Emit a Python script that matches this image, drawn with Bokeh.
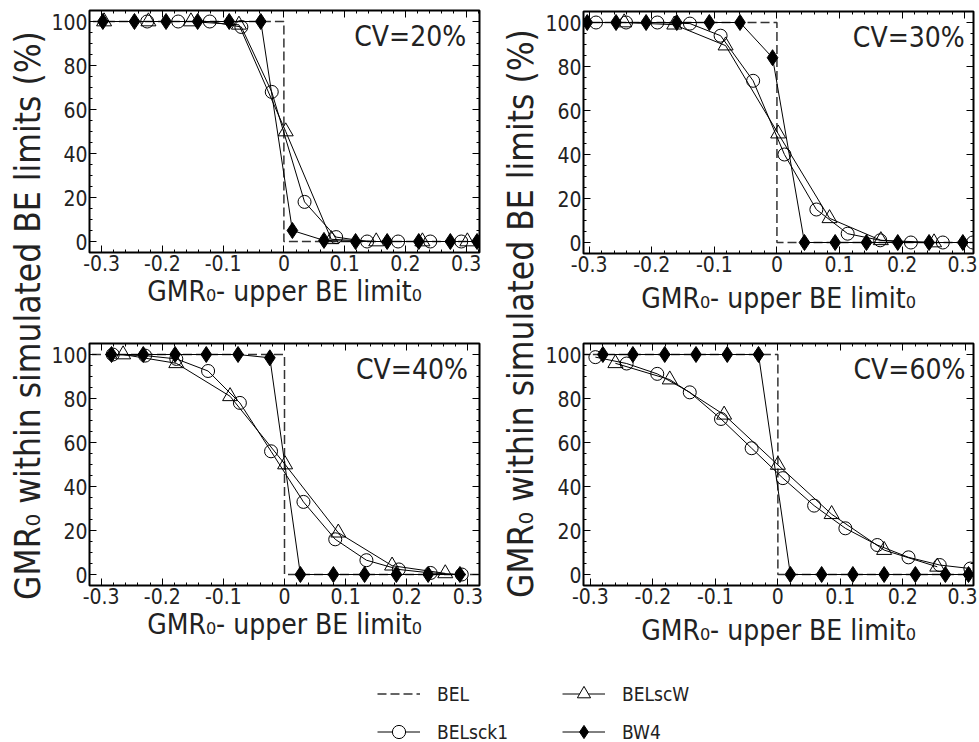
import math
from bokeh.plotting import figure
from bokeh.layouts import row, column
from bokeh.models import FixedTicker, LinearAxis, Legend, LegendItem, Range1d, Label
from bokeh.embed import file_html
from bokeh.resources import INLINE

FONT = "DejaVu Sans Condensed"
TXT = "#222222"

# ---------------- data ----------------
xtick_vals = [-0.3, -0.2, -0.1, 0, 0.1, 0.2, 0.3]
xtick_labels = ["-0.3", "-0.2", "-0.1", "0", "0.1", "0.2", "0.3"]
ytick_vals = [0, 20, 40, 60, 80, 100]
ytick_labels = ["0", "20", "40", "60", "80", "100"]

bel_x = [-0.4, 0, 0, 0.4]
bel_y = [100, 100, 0, 0]

# CV = 20%
cv20_bw4_x = [-0.298, -0.246, -0.194, -0.142, -0.090, -0.038, 0.014, 0.066, 0.118, 0.170, 0.222, 0.274, 0.318]
cv20_bw4_y = [100, 100, 100, 100, 100, 100, 5, 0.5, 0, 0, 0, 0, 0]
cv20_sck1_x = [-0.225, -0.174, -0.122, -0.070, -0.020, 0.034, 0.086, 0.137, 0.188, 0.241, 0.292]
cv20_sck1_y = [100, 100, 100, 97.5, 68, 18, 2, 0, 0, 0, 0]
cv20_scw_x = [-0.296, -0.223, -0.153, -0.074, 0.003, 0.078, 0.152, 0.228, 0.302]
cv20_scw_y = [100, 100, 100, 98.5, 50, 1, 0, 0, 0]

# CV = 30%
cv30_bw4_x = [-0.303, -0.257, -0.209, -0.160, -0.108, -0.059, -0.007, 0.044, 0.093, 0.143, 0.193, 0.243, 0.297]
cv30_bw4_y = [100, 100, 100, 100, 100, 100, 84, 0, 0, 0, 0, 0, 0]
cv30_sck1_x = [-0.289, -0.241, -0.191, -0.139, -0.090, -0.038, 0.012, 0.063, 0.113, 0.165, 0.214, 0.265, 0.313]
cv30_sck1_y = [100, 100, 100, 99.5, 94, 73.5, 40, 15, 4, 1, 0, 0, 0]
cv30_scw_x = [-0.244, -0.164, -0.082, 0.002, 0.084, 0.166, 0.251]
cv30_scw_y = [100, 99, 89.5, 49.5, 11, 1, 0]

# CV = 40%
cv40_bw4_x = [-0.283, -0.231, -0.179, -0.128, -0.076, -0.024, 0.026, 0.080, 0.131, 0.183, 0.235, 0.287]
cv40_bw4_y = [100, 100, 100, 100, 100, 98.5, 0, 0, 0, 0, 0, 0]
cv40_sck1_x = [-0.281, -0.228, -0.177, -0.125, -0.073, -0.022, 0.031, 0.083, 0.134, 0.187, 0.239, 0.290]
cv40_sck1_y = [100, 99.5, 98, 92.5, 78, 56, 33, 16, 6.5, 2.3, 0.7, 0]
cv40_scw_x = [-0.264, -0.177, -0.089, 0.001, 0.088, 0.176, 0.263]
cv40_scw_y = [100, 96, 81, 50, 19, 4, 0.5]

# CV = 60%
cv60_bw4_x = [-0.280, -0.232, -0.181, -0.131, -0.081, -0.031, 0.020, 0.070, 0.120, 0.170, 0.220, 0.268, 0.305]
cv60_bw4_y = [100, 100, 100, 100, 100, 100, 0, 0, 0, 0, 0, 0, 0]
cv60_sck1_x = [-0.292, -0.242, -0.193, -0.141, -0.091, -0.042, 0.008, 0.058, 0.108, 0.159, 0.209, 0.259, 0.308]
cv60_sck1_y = [98.8, 95.9, 91.2, 82.8, 70.7, 57.4, 43.8, 31.3, 21.0, 13.4, 7.8, 4.3, 2.7]
cv60_scw_x = [-0.260, -0.173, -0.086, 0.000, 0.086, 0.170, 0.255]
cv60_scw_y = [96, 88.6, 72.6, 49.8, 27.4, 11.1, 3.5]

XLABEL = "GMR\u2080- upper BE limit\u2080"
YLABEL = "GMR\u2080 within simulated BE limits (%)"
series_names = ["BEL", "BELsck1", "BELscW", "BW4"]

xminor = [round(-0.34 + 0.02 * i, 2) for i in range(35)]
yminor = list(range(-5, 110, 5))

BEL_STYLE = dict(line_color="#333333", line_width=1.5, line_dash="9 4")
TRI = dict(marker="triangle", size=15, fill_color=None, line_color="black", line_width=1)
CIR = dict(marker="circle", size=13, fill_color=None, line_color="black", line_width=1)
DIA = dict(marker="diamond", size=16, fill_color="black", line_color="black", line_width=1)
LINE = dict(line_color="black", line_width=1)


def style_axis(ax, labels=True):
    ax.major_tick_in = 7
    ax.major_tick_out = 0
    ax.minor_tick_in = 3
    ax.minor_tick_out = 0
    ax.axis_line_color = None
    ax.major_tick_line_color = "black"
    ax.minor_tick_line_color = "black"
    ax.major_label_standoff = 2 if labels else 0
    ax.major_label_text_font = FONT
    ax.major_label_text_color = TXT
    ax.major_label_text_font_size = "21px" if labels else "0px"


def panel(cv, bw4_x, bw4_y, sck1_x, sck1_y, scw_x, scw_y, xr, w, h, bl, br, bt, bb, lab_standoff):
    p = figure(width=w, height=h, x_range=Range1d(*xr), y_range=Range1d(-5, 105),
               output_backend="svg", toolbar_location=None,
               min_border_left=bl, min_border_right=br, min_border_top=bt, min_border_bottom=bb)
    p.grid.visible = False
    p.outline_line_color = "black"
    p.outline_line_width = 2
    p.xaxis.ticker = FixedTicker(ticks=xtick_vals, minor_ticks=xminor)
    p.yaxis.ticker = FixedTicker(ticks=ytick_vals, minor_ticks=yminor)
    p.xaxis.major_label_overrides = dict(zip(xtick_vals, xtick_labels))
    p.yaxis.major_label_overrides = dict(zip(ytick_vals, ytick_labels))
    style_axis(p.xaxis[0])
    style_axis(p.yaxis[0])
    p.xaxis.axis_label = XLABEL
    p.xaxis.axis_label_text_font = FONT
    p.xaxis.axis_label_text_font_style = "normal"
    p.xaxis.axis_label_text_font_size = "28px"
    p.xaxis.axis_label_text_color = TXT
    p.xaxis.axis_label_standoff = lab_standoff
    top = LinearAxis(ticker=FixedTicker(ticks=xtick_vals, minor_ticks=xminor),
                     major_label_overrides={v: "" for v in xtick_vals})
    style_axis(top, labels=False)
    p.add_layout(top, "above")
    right = LinearAxis(ticker=FixedTicker(ticks=ytick_vals, minor_ticks=yminor),
                       major_label_overrides={v: "" for v in ytick_vals})
    style_axis(right, labels=False)
    p.add_layout(right, "right")

    p.line(bel_x, bel_y, **BEL_STYLE)
    p.line(scw_x, scw_y, **LINE)
    p.scatter(scw_x, scw_y, **TRI)
    p.line(sck1_x, sck1_y, **LINE)
    p.scatter(sck1_x, sck1_y, **CIR)
    p.line(bw4_x, bw4_y, **LINE)
    p.scatter(bw4_x, bw4_y, **DIA)

    p.add_layout(Label(x=0.30, y=93, text=cv, text_align="right", text_baseline="middle",
                       text_font=FONT, text_font_size="28px", text_color=TXT))
    return p


p1 = panel("CV=20%", cv20_bw4_x, cv20_bw4_y, cv20_sck1_x, cv20_sck1_y, cv20_scw_x, cv20_scw_y,
           (-0.32, 0.322), 449, 332, 38, 18, 10, 80, 1)
p3 = panel("CV=40%", cv40_bw4_x, cv40_bw4_y, cv40_sck1_x, cv40_sck1_y, cv40_scw_x, cv40_scw_y,
           (-0.319, 0.319), 449, 328, 38, 18, 11, 75, 1)
p2 = panel("CV=30%", cv30_bw4_x, cv30_bw4_y, cv30_sck1_x, cv30_sck1_y, cv30_scw_x, cv30_scw_y,
           (-0.309, 0.314), 436, 332, 42, 4, 11, 79, 7)
p4 = panel("CV=60%", cv60_bw4_x, cv60_bw4_y, cv60_sck1_x, cv60_sck1_y, cv60_scw_x, cv60_scw_y,
           (-0.311, 0.313), 436, 328, 42, 4, 11, 75, 7)


def label_fig(w, h, cx, cy):
    f = figure(width=w, height=h, x_range=Range1d(0, w), y_range=Range1d(0, h),
               output_backend="svg", toolbar_location=None, min_border=0,
               x_axis_location=None, y_axis_location=None)
    f.outline_line_color = None
    f.grid.visible = False
    f.add_layout(Label(x=cx, y=cy, text=YLABEL, angle=math.pi / 2, text_align="center",
                       text_baseline="middle", text_font=FONT, text_font_size="35px",
                       text_color=TXT))
    return f


ylabL = label_fig(48, 660, 27, 345)
ylabR = label_fig(44, 660, 23, 347)

# legend strip (proxy renderers carry no visible data)
nan = [float("nan")]
lf = figure(width=977, height=90, x_range=Range1d(0, 1), y_range=Range1d(0, 1),
            output_backend="svg", toolbar_location=None, min_border=0,
            x_axis_location=None, y_axis_location=None)
lf.outline_line_color = None
lf.grid.visible = False
r_bel = lf.line(x=nan, y=nan, **BEL_STYLE)
r_s_l = lf.line(x=nan, y=nan, **LINE)
r_s_m = lf.scatter(x=nan, y=nan, **dict(CIR, fill_color="white"))
r_w_l = lf.line(x=nan, y=nan, **LINE)
r_w_m = lf.scatter(x=nan, y=nan, **dict(TRI, fill_color="white"))
r_b_l = lf.line(x=nan, y=nan, **LINE)
r_b_m = lf.scatter(x=nan, y=nan, **DIA)

LEG = dict(orientation="vertical", glyph_width=43, glyph_height=33, label_standoff=17, spacing=5,
           padding=0, margin=0, border_line_color=None, background_fill_alpha=0,
           label_text_font=FONT, label_text_font_size="19px", label_text_color=TXT)
leg1 = Legend(items=[LegendItem(label=series_names[0], renderers=[r_bel]),
                     LegendItem(label=series_names[1], renderers=[r_s_l, r_s_m])],
              location=(377, 2), **LEG)
leg2 = Legend(items=[LegendItem(label=series_names[2], renderers=[r_w_l, r_w_m]),
                     LegendItem(label=series_names[3], renderers=[r_b_l, r_b_m])],
              location=(562, 2), **LEG)
lf.add_layout(leg1)
lf.add_layout(leg2)

layout = column(row(ylabL, column(p1, p3), ylabR, column(p2, p4)), lf)

html = file_html(layout, INLINE, title="BE limits")
html = html.replace("</head>", "<style>html, body {overflow: hidden;}</style></head>", 1)
open("out.html", "w").write(html)
